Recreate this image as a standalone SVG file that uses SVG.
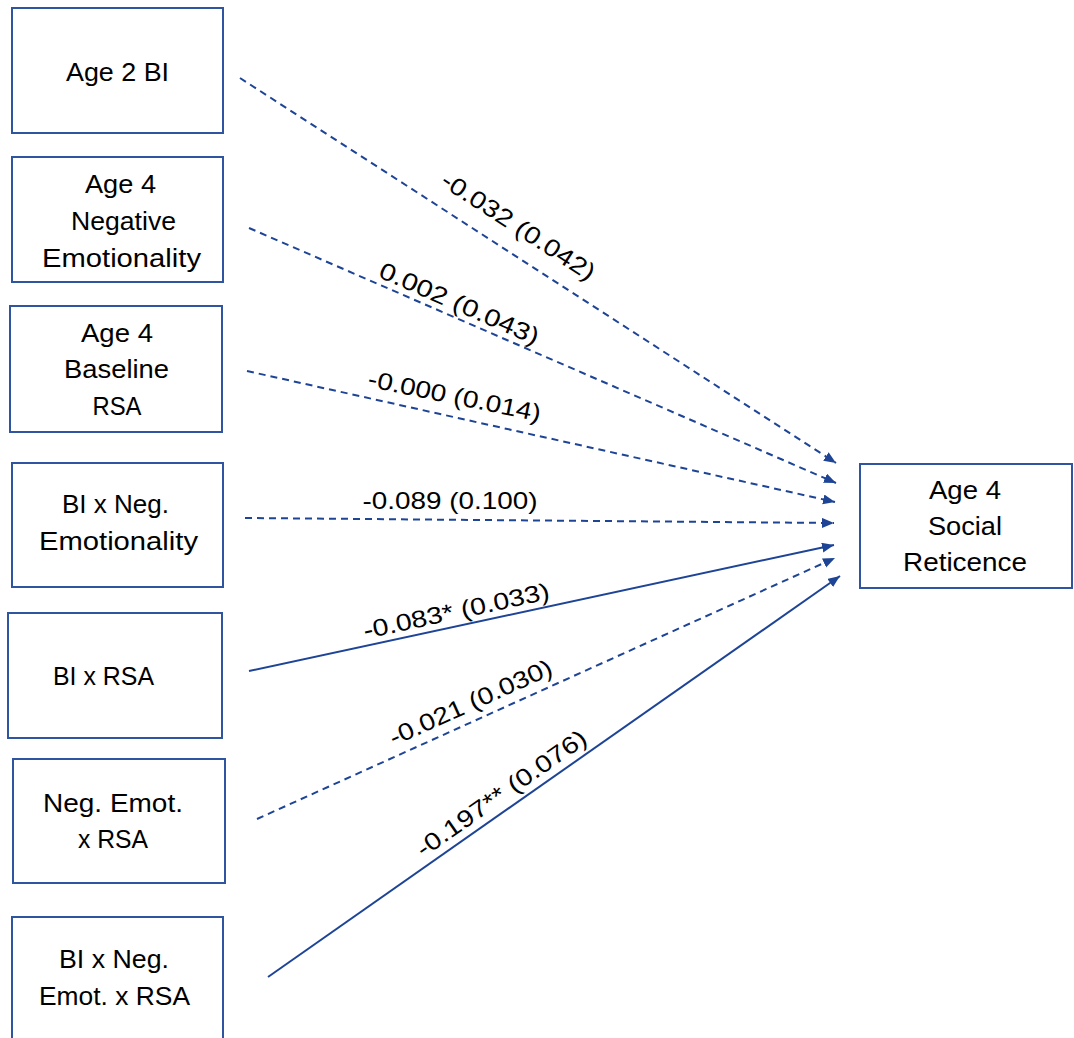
<svg xmlns="http://www.w3.org/2000/svg" width="1074" height="1038" viewBox="0 0 1074 1038">
<style>
.box{fill:#ffffff;stroke:#2F55A0;stroke-width:2}
.t{font-family:"Liberation Sans",Arial,sans-serif;font-size:26px;fill:#000;text-anchor:middle}
.l{font-family:"Liberation Sans",Arial,sans-serif;font-size:24px;fill:#000;text-anchor:middle}
.c{stroke:#1E4496;stroke-width:2;fill:none;marker-end:url(#ah)}
.d{stroke-dasharray:7 5}
</style>
<defs>
<marker id="ah" markerUnits="userSpaceOnUse" markerWidth="13" markerHeight="11" refX="12" refY="5" orient="auto">
<path d="M0,0 L12,5 L0,10 z" fill="#1E4496"/>
</marker>
</defs>
<rect width="1074" height="1038" fill="#ffffff"/>
<g id="connectors">
<line class="c d" x1="240" y1="78" x2="836" y2="463"/>
<line class="c d" x1="249" y1="228" x2="836" y2="483"/>
<line class="c d" x1="247" y1="371" x2="835" y2="502"/>
<line class="c d" x1="245" y1="518" x2="834" y2="523"/>
<line class="c" x1="249" y1="671" x2="834" y2="545"/>
<line class="c d" x1="257" y1="819" x2="835" y2="558"/>
<line class="c" x1="268" y1="977" x2="840" y2="576"/>
<text class="l" transform="translate(514,233) rotate(33)" textLength="178" lengthAdjust="spacingAndGlyphs">-0.032 (0.042)</text>
<text class="l" transform="translate(456,311) rotate(23.5)" textLength="172" lengthAdjust="spacingAndGlyphs">0.002 (0.043)</text>
<text class="l" transform="translate(453,404) rotate(11.5)" textLength="176" lengthAdjust="spacingAndGlyphs">-0.000 (0.014)</text>
<text class="l" x="450" y="509" textLength="175" lengthAdjust="spacingAndGlyphs">-0.089 (0.100)</text>
<text class="l" transform="translate(458,619) rotate(-12.2)" textLength="190" lengthAdjust="spacingAndGlyphs">-0.083* (0.033)</text>
<text class="l" transform="translate(474,710) rotate(-24.3)" textLength="176" lengthAdjust="spacingAndGlyphs">-0.021 (0.030)</text>
<text class="l" transform="translate(506,800) rotate(-35)" textLength="202" lengthAdjust="spacingAndGlyphs">-0.197** (0.076)</text>
</g>
<g id="n1">
<rect class="box" x="12" y="8" width="211" height="125"/>
<text class="t" x="117.5" y="81" textLength="103" lengthAdjust="spacingAndGlyphs">Age 2 BI</text>
</g>
<g id="n2">
<rect class="box" x="12" y="157" width="211" height="125"/>
<text class="t" x="120.5" y="193" textLength="71" lengthAdjust="spacingAndGlyphs">Age 4</text>
<text class="t" x="123.5" y="230" textLength="105" lengthAdjust="spacingAndGlyphs">Negative</text>
<text class="t" x="121.5" y="267" textLength="159" lengthAdjust="spacingAndGlyphs">Emotionality</text>
</g>
<g id="n3">
<rect class="box" x="10" y="306" width="212" height="126"/>
<text class="t" x="117" y="342" textLength="72" lengthAdjust="spacingAndGlyphs">Age 4</text>
<text class="t" x="116.5" y="378" textLength="105" lengthAdjust="spacingAndGlyphs">Baseline</text>
<text class="t" x="117" y="415" textLength="49" lengthAdjust="spacingAndGlyphs">RSA</text>
</g>
<g id="n4">
<rect class="box" x="12" y="463" width="211" height="124"/>
<text class="t" x="115.5" y="513" textLength="107" lengthAdjust="spacingAndGlyphs">BI x Neg.</text>
<text class="t" x="118.5" y="550" textLength="159" lengthAdjust="spacingAndGlyphs">Emotionality</text>
</g>
<g id="n5">
<rect class="box" x="8" y="613" width="214" height="125"/>
<text class="t" x="103.5" y="685" textLength="101" lengthAdjust="spacingAndGlyphs">BI x RSA</text>
</g>
<g id="n6">
<rect class="box" x="13" y="759" width="212" height="124"/>
<text class="t" x="113" y="812" textLength="140" lengthAdjust="spacingAndGlyphs">Neg. Emot.</text>
<text class="t" x="113" y="848" textLength="70" lengthAdjust="spacingAndGlyphs">x RSA</text>
</g>
<g id="n7">
<rect class="box" x="12" y="917" width="211" height="130"/>
<text class="t" x="114" y="968" textLength="110" lengthAdjust="spacingAndGlyphs">BI x Neg.</text>
<text class="t" x="114.5" y="1005" textLength="151" lengthAdjust="spacingAndGlyphs">Emot. x RSA</text>
</g>
<g id="target">
<rect class="box" x="860" y="464" width="212" height="124"/>
<text class="t" x="965" y="499" textLength="72" lengthAdjust="spacingAndGlyphs">Age 4</text>
<text class="t" x="965" y="535" textLength="74" lengthAdjust="spacingAndGlyphs">Social</text>
<text class="t" x="965" y="571" textLength="124" lengthAdjust="spacingAndGlyphs">Reticence</text>
</g>
</svg>
